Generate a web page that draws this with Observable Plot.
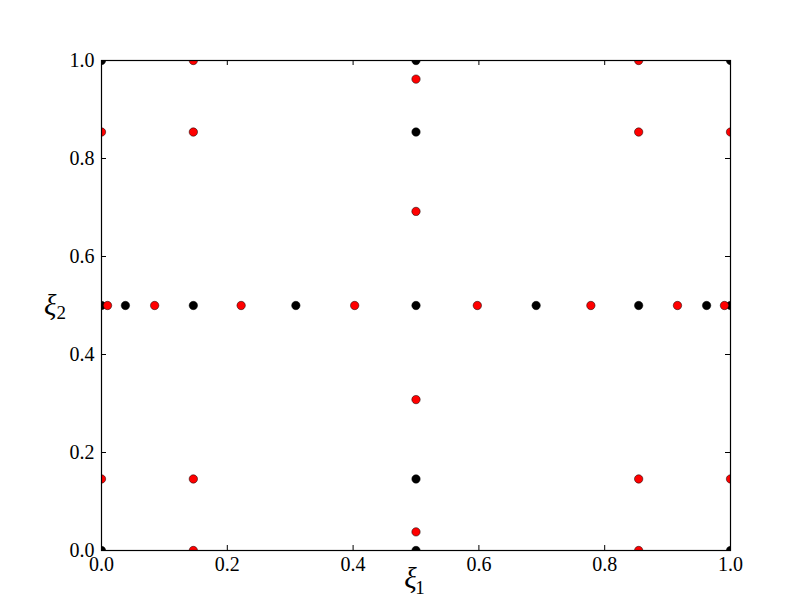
<!DOCTYPE html>
<html>
<head>
<meta charset="utf-8">
<script src="https://cdn.jsdelivr.net/npm/d3@7"></script>
<script src="https://cdn.jsdelivr.net/npm/@observablehq/plot@0.6"></script>
<style>
  html, body { margin: 0; padding: 0; background: #fff; }
  #chart { width: 812px; height: 612px; }
</style>
</head>
<body>
<div id="chart"></div>
<script>
// Black points (x, y)
const blackX = [0, 0, 1, 1, 0.5, 0.5, 0.5, 0.5, 0.5, 0, 0.038, 0.146, 0.309, 0.691, 0.854, 0.962, 1];
const blackY = [0, 1, 0, 1, 0, 0.146, 0.5, 0.854, 1, 0.5, 0.5, 0.5, 0.5, 0.5, 0.5, 0.5, 0.5];
// Red points (x, y)
const redX = [0.0096, 0.0845, 0.222, 0.4025, 0.5975, 0.778, 0.9157, 0.9904,
              0.5, 0.5, 0.5, 0.5,
              0, 0, 0.146, 0.146, 0.146, 0.146, 0.854, 0.854, 0.854, 0.854, 1, 1];
const redY = [0.5, 0.5, 0.5, 0.5, 0.5, 0.5, 0.5, 0.5,
              0.038, 0.308, 0.692, 0.962,
              0.146, 0.854, 0, 0.146, 0.854, 1, 0, 0.146, 0.854, 1, 0.146, 0.854];
const tickValues = [0, 0.2, 0.4, 0.6, 0.8, 1.0];
const labelSymbol = "ξ";
const xSub = "1";
const ySub = "2";

const black = blackX.map((x, i) => ({x, y: blackY[i]}));
const red = redX.map((x, i) => ({x, y: redY[i]}));

const W = 812, H = 612;
const mL = 101, mR = 82, mT = 60, mB = 62;
const fw = W - mL - mR, fh = H - mT - mB;
const font = "'Liberation Serif', 'DejaVu Serif', serif";

const chart = Plot.plot({
  width: W,
  height: H,
  marginLeft: mL,
  marginRight: mR,
  marginTop: mT,
  marginBottom: mB,
  style: {fontFamily: font, fontSize: "20px", color: "black", background: "white"},
  x: {domain: [0, 1]},
  y: {domain: [0, 1]},
  marks: [
    Plot.axisX(tickValues, {tickSize: 0, tickPadding: 6, tickFormat: d3.format(".1f"), label: null, fontSize: 20}),
    Plot.axisY(tickValues, {tickSize: 0, tickPadding: 7, tickFormat: d3.format(".1f"), label: null, fontSize: 20}),
    // inward ticks on all four sides
    Plot.tickX(tickValues, {x: d => d, insetTop: fh - 5, stroke: "black"}),
    Plot.tickX(tickValues, {x: d => d, insetBottom: fh - 5, stroke: "black"}),
    Plot.tickY(tickValues, {y: d => d, insetRight: fw - 5, stroke: "black"}),
    Plot.tickY(tickValues, {y: d => d, insetLeft: fw - 5, stroke: "black"}),
    Plot.dot(black, {x: "x", y: "y", r: 4.2, fill: "black", stroke: "black", strokeWidth: 0.5, clip: true}),
    Plot.dot(red, {x: "x", y: "y", r: 4.2, fill: "#ff0000", stroke: "black", strokeWidth: 0.5, clip: true}),
    Plot.frame({stroke: "black", strokeWidth: 1.2}),
    // x label: ξ with subscript 1
    Plot.text([labelSymbol], {frameAnchor: "bottom", dx: -5.5, dy: 37, text: d => d, fontSize: 29, fontStyle: "italic", fill: "black"}),
    Plot.text([xSub], {frameAnchor: "bottom", dx: 4, dy: 43.5, text: d => d, fontSize: 19, fill: "black"}),
    // y label: ξ with subscript 2
    Plot.text([labelSymbol], {frameAnchor: "left", dx: -57.5, dy: 0, text: d => d, fontSize: 29, fontStyle: "italic", fill: "black"}),
    Plot.text([ySub], {frameAnchor: "left", dx: -45, dy: 7.5, text: d => d, fontSize: 19, fill: "black"})
  ]
});
document.getElementById("chart").appendChild(chart);
</script>
</body>
</html>
